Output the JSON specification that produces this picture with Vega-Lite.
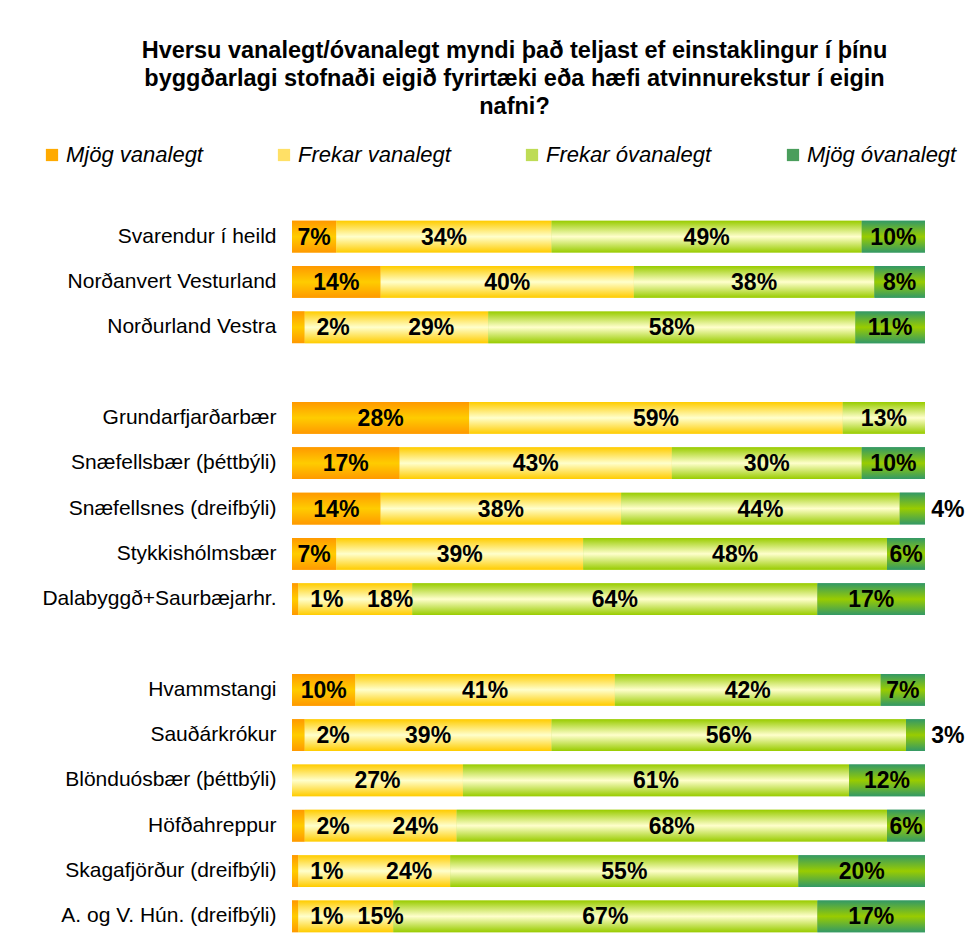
{
  "$schema": "https://vega.github.io/schema/vega-lite/v6.json",
  "autosize": {"type": "none"},
  "padding": {"left": 292, "top": 214, "right": 42, "bottom": 8},
  "width": 633,
  "height": 725,
  "background": "white",
  "title": {
    "text": ["Hversu vanalegt/óvanalegt myndi það teljast ef einstaklingur í þínu", "byggðarlagi stofnaði eigið fyrirtæki eða hæfi atvinnurekstur í eigin", "nafni?"],
    "font": "Liberation Sans",
    "fontSize": 23.5,
    "fontWeight": "bold",
    "lineHeight": 28,
    "anchor": "middle",
    "frame": "group",
    "dx": -94,
    "offset": 26,
    "color": "black"
  },
  "data": {
    "values": [
      {"row": "Svarendur í heild", "cat": "Mjög vanalegt", "v": 7},
      {"row": "Svarendur í heild", "cat": "Frekar vanalegt", "v": 34},
      {"row": "Svarendur í heild", "cat": "Frekar óvanalegt", "v": 49},
      {"row": "Svarendur í heild", "cat": "Mjög óvanalegt", "v": 10},
      {"row": "Norðanvert Vesturland", "cat": "Mjög vanalegt", "v": 14},
      {"row": "Norðanvert Vesturland", "cat": "Frekar vanalegt", "v": 40},
      {"row": "Norðanvert Vesturland", "cat": "Frekar óvanalegt", "v": 38},
      {"row": "Norðanvert Vesturland", "cat": "Mjög óvanalegt", "v": 8},
      {"row": "Norðurland Vestra", "cat": "Mjög vanalegt", "v": 2},
      {"row": "Norðurland Vestra", "cat": "Frekar vanalegt", "v": 29},
      {"row": "Norðurland Vestra", "cat": "Frekar óvanalegt", "v": 58},
      {"row": "Norðurland Vestra", "cat": "Mjög óvanalegt", "v": 11},
      {"row": "Grundarfjarðarbær", "cat": "Mjög vanalegt", "v": 28},
      {"row": "Grundarfjarðarbær", "cat": "Frekar vanalegt", "v": 59},
      {"row": "Grundarfjarðarbær", "cat": "Frekar óvanalegt", "v": 13},
      {"row": "Snæfellsbær (þéttbýli)", "cat": "Mjög vanalegt", "v": 17},
      {"row": "Snæfellsbær (þéttbýli)", "cat": "Frekar vanalegt", "v": 43},
      {"row": "Snæfellsbær (þéttbýli)", "cat": "Frekar óvanalegt", "v": 30},
      {"row": "Snæfellsbær (þéttbýli)", "cat": "Mjög óvanalegt", "v": 10},
      {"row": "Snæfellsnes (dreifbýli)", "cat": "Mjög vanalegt", "v": 14},
      {"row": "Snæfellsnes (dreifbýli)", "cat": "Frekar vanalegt", "v": 38},
      {"row": "Snæfellsnes (dreifbýli)", "cat": "Frekar óvanalegt", "v": 44},
      {"row": "Snæfellsnes (dreifbýli)", "cat": "Mjög óvanalegt", "v": 4},
      {"row": "Stykkishólmsbær", "cat": "Mjög vanalegt", "v": 7},
      {"row": "Stykkishólmsbær", "cat": "Frekar vanalegt", "v": 39},
      {"row": "Stykkishólmsbær", "cat": "Frekar óvanalegt", "v": 48},
      {"row": "Stykkishólmsbær", "cat": "Mjög óvanalegt", "v": 6},
      {"row": "Dalabyggð+Saurbæjarhr.", "cat": "Mjög vanalegt", "v": 1},
      {"row": "Dalabyggð+Saurbæjarhr.", "cat": "Frekar vanalegt", "v": 18},
      {"row": "Dalabyggð+Saurbæjarhr.", "cat": "Frekar óvanalegt", "v": 64},
      {"row": "Dalabyggð+Saurbæjarhr.", "cat": "Mjög óvanalegt", "v": 17},
      {"row": "Hvammstangi", "cat": "Mjög vanalegt", "v": 10},
      {"row": "Hvammstangi", "cat": "Frekar vanalegt", "v": 41},
      {"row": "Hvammstangi", "cat": "Frekar óvanalegt", "v": 42},
      {"row": "Hvammstangi", "cat": "Mjög óvanalegt", "v": 7},
      {"row": "Sauðárkrókur", "cat": "Mjög vanalegt", "v": 2},
      {"row": "Sauðárkrókur", "cat": "Frekar vanalegt", "v": 39},
      {"row": "Sauðárkrókur", "cat": "Frekar óvanalegt", "v": 56},
      {"row": "Sauðárkrókur", "cat": "Mjög óvanalegt", "v": 3},
      {"row": "Blönduósbær (þéttbýli)", "cat": "Frekar vanalegt", "v": 27},
      {"row": "Blönduósbær (þéttbýli)", "cat": "Frekar óvanalegt", "v": 61},
      {"row": "Blönduósbær (þéttbýli)", "cat": "Mjög óvanalegt", "v": 12},
      {"row": "Höfðahreppur", "cat": "Mjög vanalegt", "v": 2},
      {"row": "Höfðahreppur", "cat": "Frekar vanalegt", "v": 24},
      {"row": "Höfðahreppur", "cat": "Frekar óvanalegt", "v": 68},
      {"row": "Höfðahreppur", "cat": "Mjög óvanalegt", "v": 6},
      {"row": "Skagafjörður (dreifbýli)", "cat": "Mjög vanalegt", "v": 1},
      {"row": "Skagafjörður (dreifbýli)", "cat": "Frekar vanalegt", "v": 24},
      {"row": "Skagafjörður (dreifbýli)", "cat": "Frekar óvanalegt", "v": 55},
      {"row": "Skagafjörður (dreifbýli)", "cat": "Mjög óvanalegt", "v": 20},
      {"row": "A. og V. Hún. (dreifbýli)", "cat": "Mjög vanalegt", "v": 1},
      {"row": "A. og V. Hún. (dreifbýli)", "cat": "Frekar vanalegt", "v": 15},
      {"row": "A. og V. Hún. (dreifbýli)", "cat": "Frekar óvanalegt", "v": 67},
      {"row": "A. og V. Hún. (dreifbýli)", "cat": "Mjög óvanalegt", "v": 17}
    ]
  },
  "transform": [
    {"calculate": "indexof(['Mjög vanalegt','Frekar vanalegt','Frekar óvanalegt','Mjög óvanalegt'], datum.cat)", "as": "o"},
    {"stack": "v", "groupby": ["row"], "sort": [{"field": "o", "order": "ascending"}], "offset": "zero", "as": ["x0", "x1"]},
    {"calculate": "datum.o == 0 && datum.v <= 2 ? datum.x1 + 4.5 : (datum.o == 1 && datum.x0 > 0 && datum.x0 <= 2 && datum.v < 30 ? (datum.x0 + datum.x1) / 2 + 5.5 : (datum.o == 3 && datum.v <= 4 ? 103.6 : (datum.x0 + datum.x1) / 2))", "as": "lx"},
    {"calculate": "datum.v + '%'", "as": "lbl"}
  ],
  "encoding": {
    "y": {
      "field": "row",
      "type": "nominal",
      "scale": {
        "domain": ["Svarendur í heild", "Norðanvert Vesturland", "Norðurland Vestra", " ", "Grundarfjarðarbær", "Snæfellsbær (þéttbýli)", "Snæfellsnes (dreifbýli)", "Stykkishólmsbær", "Dalabyggð+Saurbæjarhr.", "  ", "Hvammstangi", "Sauðárkrókur", "Blönduósbær (þéttbýli)", "Höfðahreppur", "Skagafjörður (dreifbýli)", "A. og V. Hún. (dreifbýli)"],
        "paddingInner": 0.3,
        "paddingOuter": 0.15
      },
      "axis": {
        "title": null,
        "domain": false,
        "ticks": false,
        "labelFont": "Liberation Sans",
        "labelFontSize": 21,
        "labelColor": "black",
        "labelPadding": 16,
        "labelLimit": 400
      }
    }
  },
  "layer": [
    {
      "mark": {"type": "bar"},
      "encoding": {
        "x": {"field": "x0", "type": "quantitative", "scale": {"domain": [0, 100], "nice": false}, "axis": null},
        "x2": {"field": "x1"},
        "color": {
          "field": "cat",
          "type": "nominal",
          "scale": {
            "domain": ["Mjög vanalegt", "Frekar vanalegt", "Frekar óvanalegt", "Mjög óvanalegt"],
            "range": ["#FFAA00", "#FFE066", "#BEDC55", "#4A9E5C"]
          },
          "legend": {
            "title": null,
            "orient": "none",
            "legendX": -251,
            "legendY": -70,
            "direction": "horizontal",
            "columns": 4,
            "symbolType": "square",
            "symbolSize": 150,
            "symbolStrokeWidth": 0,
            "labelFont": "Liberation Sans",
            "labelFontSize": 22,
            "labelFontStyle": "italic",
            "labelColor": "black",
            "labelOffset": 3,
            "columnPadding": 70,
            "labelLimit": 300
          }
        }
      }
    },
    {
      "mark": {"type": "bar"},
      "encoding": {
        "x": {"field": "x0", "type": "quantitative"},
        "x2": {"field": "x1"},
        "fill": {
          "condition": [
            {"test": "datum.o == 0", "value": {"gradient": "linear", "x1": 0, "y1": 0, "x2": 0, "y2": 1, "stops": [{"offset": 0, "color": "#FF9900"}, {"offset": 0.5, "color": "#FFCC00"}, {"offset": 1, "color": "#FF9900"}]}},
            {"test": "datum.o == 1", "value": {"gradient": "linear", "x1": 0, "y1": 0, "x2": 0, "y2": 1, "stops": [{"offset": 0, "color": "#FFCC00"}, {"offset": 0.5, "color": "#FFFFCC"}, {"offset": 1, "color": "#FFCC00"}]}},
            {"test": "datum.o == 2", "value": {"gradient": "linear", "x1": 0, "y1": 0, "x2": 0, "y2": 1, "stops": [{"offset": 0, "color": "#99CC00"}, {"offset": 0.5, "color": "#FFFFCC"}, {"offset": 1, "color": "#99CC00"}]}}
          ],
          "value": {"gradient": "linear", "x1": 0, "y1": 0, "x2": 0, "y2": 1, "stops": [{"offset": 0, "color": "#339966"}, {"offset": 0.5, "color": "#99CC00"}, {"offset": 1, "color": "#339966"}]}
        }
      }
    },
    {
      "mark": {"type": "text", "font": "Liberation Sans", "fontSize": 23, "fontWeight": "bold", "color": "black", "baseline": "middle", "align": "center", "dy": 1},
      "encoding": {
        "x": {"field": "lx", "type": "quantitative"},
        "text": {"field": "lbl"}
      }
    }
  ],
  "config": {
    "view": {"stroke": null},
    "font": "Liberation Sans"
  }
}
